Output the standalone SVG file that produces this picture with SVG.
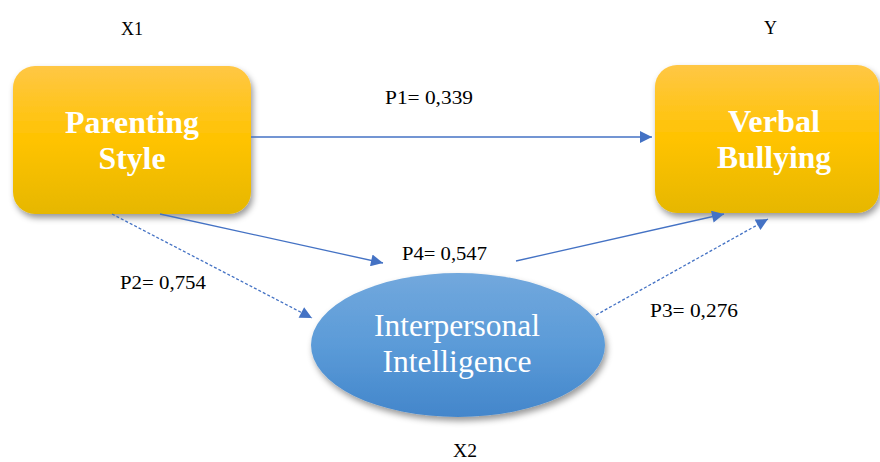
<svg xmlns="http://www.w3.org/2000/svg" width="880" height="462" viewBox="0 0 880 462" font-family="Liberation Serif, DejaVu Serif, serif">
<style>
.lbl{font-size:19px;fill:#000}
.box{font-size:32px;font-weight:bold;fill:#fff;text-anchor:middle}
.ell{font-size:31px;fill:#fff;text-anchor:middle}
.conn{stroke:#4472C4;stroke-width:1.3;fill:none}
.dash{stroke-dasharray:3 2}
</style>
<defs>
<linearGradient id="gold" x1="0" y1="0" x2="0" y2="1">
<stop offset="0" stop-color="#FFC745"/>
<stop offset="0.5" stop-color="#FFC300"/>
<stop offset="1" stop-color="#E6B700"/>
</linearGradient>
<linearGradient id="blue" x1="0" y1="0" x2="0" y2="1">
<stop offset="0" stop-color="#72A8DD"/>
<stop offset="0.5" stop-color="#5B9BD8"/>
<stop offset="1" stop-color="#4386CB"/>
</linearGradient>
<filter id="sh" x="-20%" y="-20%" width="140%" height="150%">
<feDropShadow dx="2" dy="4" stdDeviation="3" flood-color="#000" flood-opacity="0.4"/>
</filter>
<marker id="ah" viewBox="0 0 10 10" refX="10" refY="5" markerWidth="15" markerHeight="12" markerUnits="userSpaceOnUse" orient="auto">
<path d="M0,0 L10,5 L0,10 Z" fill="#4472C4"/>
</marker>
</defs>
<g id="labels">
<text class="lbl" x="121" y="35" textLength="22" lengthAdjust="spacingAndGlyphs">X1</text>
<text class="lbl" x="764" y="34" textLength="13" lengthAdjust="spacingAndGlyphs">Y</text>
<text class="lbl" x="453" y="457" textLength="24" lengthAdjust="spacingAndGlyphs">X2</text>
</g>
<g id="node-parenting">
<rect x="13" y="66" width="238" height="148" rx="22" fill="url(#gold)" filter="url(#sh)"/>
<text class="box" x="132" y="133" textLength="134" lengthAdjust="spacingAndGlyphs">Parenting</text>
<text class="box" x="132" y="169" textLength="67" lengthAdjust="spacingAndGlyphs">Style</text>
</g>
<g id="node-verbal">
<rect x="655" y="65" width="224" height="148" rx="22" fill="url(#gold)" filter="url(#sh)"/>
<text class="box" x="774" y="132" textLength="92" lengthAdjust="spacingAndGlyphs">Verbal</text>
<text class="box" x="774" y="168" textLength="114" lengthAdjust="spacingAndGlyphs">Bullying</text>
</g>
<g id="node-interpersonal">
<ellipse cx="458" cy="345" rx="147" ry="72" fill="url(#blue)" filter="url(#sh)"/>
<text class="ell" x="457" y="336" textLength="166" lengthAdjust="spacingAndGlyphs">Interpersonal</text>
<text class="ell" x="457" y="372" textLength="149" lengthAdjust="spacingAndGlyphs">Intelligence</text>
</g>
<g id="connectors">
<line class="conn" x1="251" y1="137" x2="652" y2="137" marker-end="url(#ah)"/>
<line class="conn" x1="160" y1="214" x2="383" y2="263" marker-end="url(#ah)"/>
<line class="conn" x1="516" y1="261" x2="724" y2="214" marker-end="url(#ah)"/>
<line class="conn dash" x1="112" y1="214" x2="312" y2="318" marker-end="url(#ah)"/>
<line class="conn dash" x1="596" y1="315" x2="768" y2="219" marker-end="url(#ah)"/>
</g>
<g id="edge-labels">
<text class="lbl" x="385" y="104" textLength="88" lengthAdjust="spacingAndGlyphs">P1= 0,339</text>
<text class="lbl" x="402" y="260" textLength="85" lengthAdjust="spacingAndGlyphs">P4= 0,547</text>
<text class="lbl" x="120" y="289" textLength="86" lengthAdjust="spacingAndGlyphs">P2= 0,754</text>
<text class="lbl" x="650" y="317" textLength="88" lengthAdjust="spacingAndGlyphs">P3= 0,276</text>
</g>
</svg>
